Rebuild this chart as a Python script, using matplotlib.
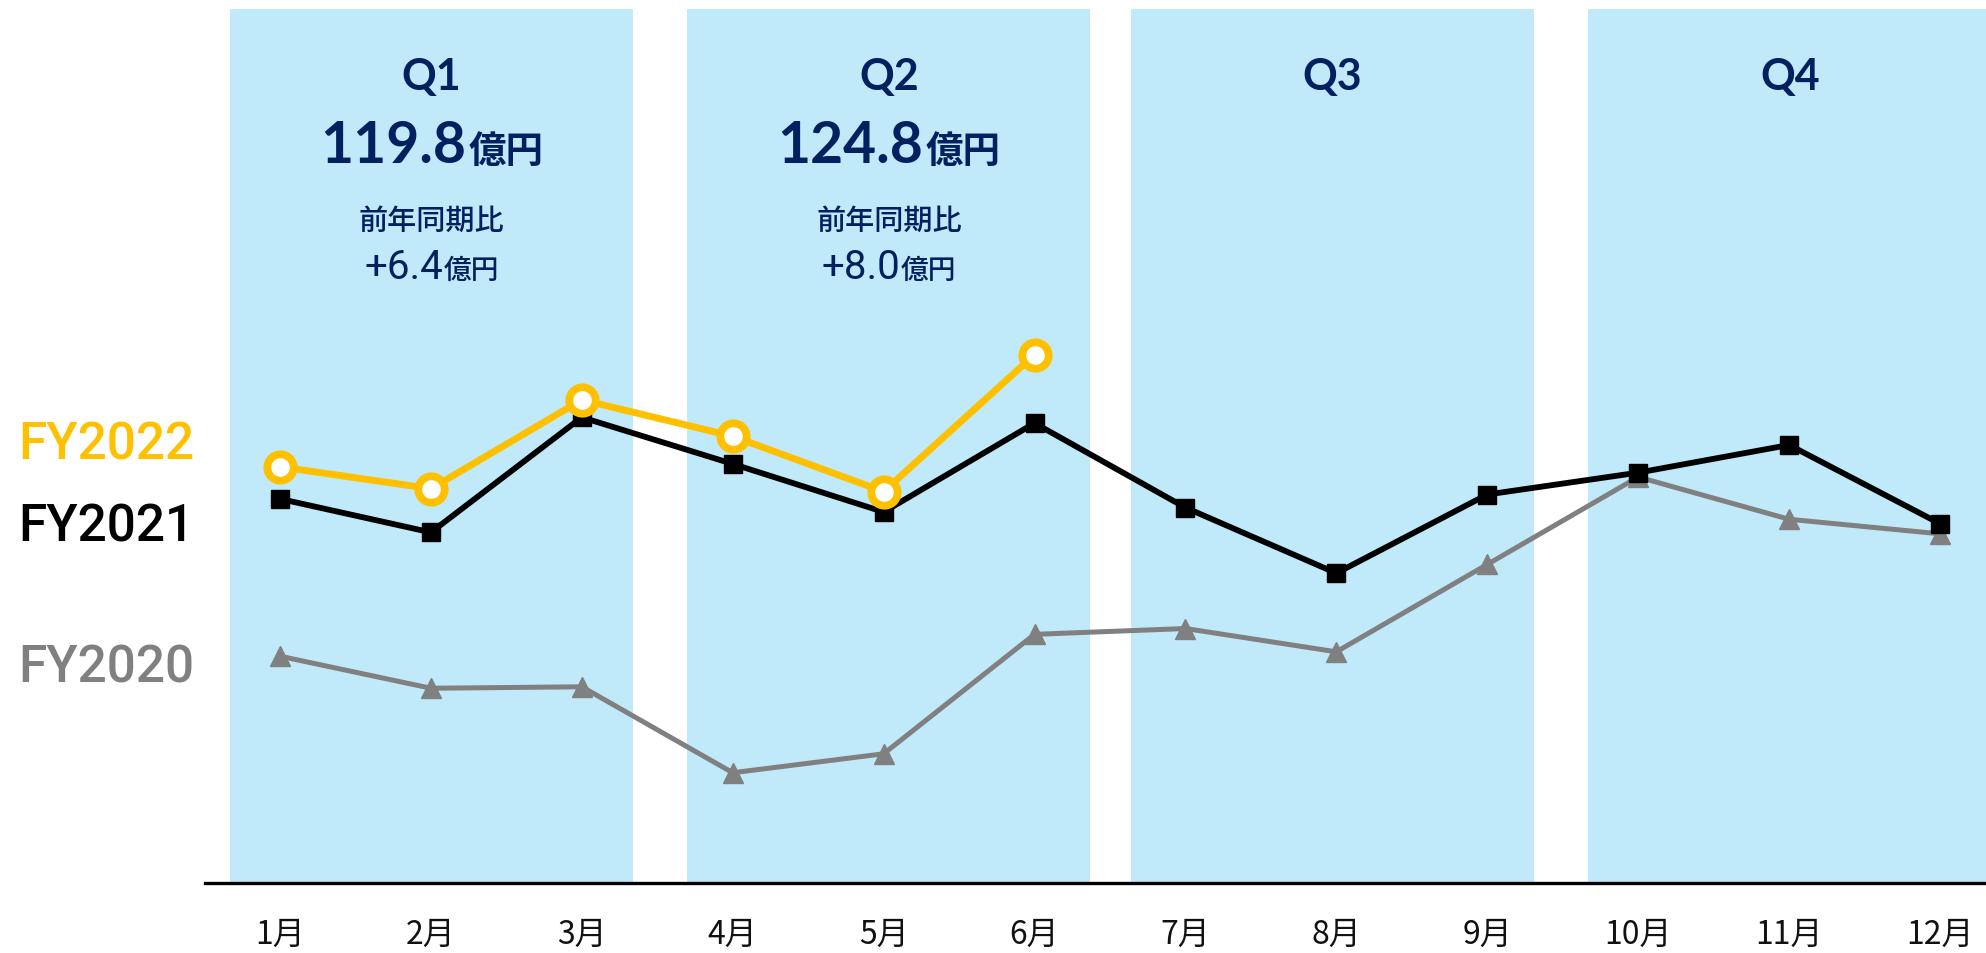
import matplotlib
matplotlib.use('Agg')
import matplotlib.pyplot as plt
import matplotlib.transforms as mtransforms

# ---------------- data ----------------
months = ['1月', '2月', '3月', '4月', '5月', '6月',
          '7月', '8月', '9月', '10月', '11月', '12月']
fy2022 = [38.9, 37.4, 43.5, 41.0, 37.2, 46.6]
fy2021 = [36.7, 34.4, 42.3, 39.1, 35.8, 41.9, 36.1, 31.6, 37.0, 38.5, 40.4, 35.0]
fy2020 = [25.9, 23.7, 23.8, 17.9, 19.2, 27.4, 27.8, 26.2, 32.2, 38.2, 35.3, 34.3]
series_names = ['FY2022', 'FY2021', 'FY2020']
quarters = ['Q1', 'Q2', 'Q3', 'Q4']
q_totals = ['119.8', '124.8', None, None]
q_yoy = ['+6.4', '+8.0', None, None]
unit = '億円'
yoy_caption = '前年同期比'

# ---------------- style ----------------
W, H, DPI = 1986, 954, 100
NAVY = '#002060'
GOLD = '#FFC000'
GREY = '#808080'
BAND = '#C0EAF9'
JP = 'Noto Sans CJK JP'
BOLDLAT = ['Lato', 'Noto Sans CJK JP', 'DejaVu Sans']
MEDLAT = ['Roboto', 'Noto Sans CJK JP', 'DejaVu Sans']
plt.rcParams['font.family'] = [JP, 'DejaVu Sans']

fig = plt.figure(figsize=(W / DPI, H / DPI), dpi=DPI)
ax_left, ax_right, ax_top, ax_bottom = 205, 1986, 10, 884
ax = fig.add_axes([ax_left / W, 1 - ax_bottom / H,
                   (ax_right - ax_left) / W, (ax_bottom - ax_top) / H])
ax.set_xlim(0.503, 12.305)
ax.set_ylim(10.33, 70.33)
ax.set_facecolor('none')

for s in ['top', 'right', 'left']:
    ax.spines[s].set_visible(False)
ax.spines['bottom'].set_linewidth(2.4)
ax.spines['bottom'].set_color('black')
ax.spines['bottom'].set_zorder(6)
ax.set_yticks([])

x = list(range(1, 13))
ax.set_xticks(x)
ax.set_xticklabels(months, fontsize=23, color='#111111')
ax.tick_params(axis='x', length=0, pad=25)

# quarter bands
band_w = 2.67
band_left = [0.67, 3.70, 6.64, 9.67]
for bl in band_left:
    ax.axvspan(bl, bl + band_w, color=BAND, lw=0, zorder=0)

# lines
ax.plot(x, fy2020, color=GREY, lw=3.6, marker='^', ms=14.5, mec=GREY, mew=1,
        zorder=3, clip_on=False)
ax.plot(x, fy2021, color='black', lw=4.2, marker='s', ms=13.5, mec='black', mew=1,
        zorder=4, clip_on=False)
ax.plot(x[:len(fy2022)], fy2022, color=GOLD, lw=5.0, marker='o', ms=19,
        mfc='white', mec=GOLD, mew=5.6, zorder=5, clip_on=False)

# ---------------- texts ----------------
tr = mtransforms.blended_transform_factory(ax.transData, fig.transFigure)


def fy(px):
    return 1 - px / H


fig.canvas.draw()
renderer = fig.canvas.get_renderer()


def two_part(c, ypx, a, b, fa, fb, wa, wb, fam, gap=2):
    t1 = ax.text(c, fy(ypx), a, transform=tr, ha='left', va='baseline',
                 fontsize=fa, fontweight=wa, color=NAVY, family=fam)
    t2 = ax.text(c, fy(ypx), b, transform=tr, ha='left', va='baseline',
                 fontsize=fb, fontweight=wb, color=NAVY)
    w1 = t1.get_window_extent(renderer).width
    w2 = t2.get_window_extent(renderer).width
    total = w1 + gap + w2
    t1.set_transform(tr + mtransforms.ScaledTranslation(-total / 2 / DPI, 0, fig.dpi_scale_trans))
    t2.set_transform(tr + mtransforms.ScaledTranslation((-total / 2 + w1 + gap) / DPI, 0,
                                                        fig.dpi_scale_trans))


for i, q in enumerate(quarters):
    c = band_left[i] + band_w / 2
    ax.text(c, fy(90), q, transform=tr, ha='center', va='baseline',
            fontsize=31, fontweight='bold', color=NAVY, family=BOLDLAT)
    if q_totals[i] is not None:
        two_part(c, 163, q_totals[i], unit, 41, 27, 'bold', 'bold', BOLDLAT)
        ax.text(c, fy(221), yoy_caption, transform=tr, ha='center', va='center',
                fontsize=21, fontweight='medium', color=NAVY)
        two_part(c, 279, q_yoy[i], unit, 29, 20, 'normal', 'medium', MEDLAT, gap=1)

# series labels on the left
label_colors = [GOLD, 'black', GREY]
label_base = [460, 542, 683]
for name, col, yb in zip(series_names, label_colors, label_base):
    fig.text(18 / W, fy(yb), name, color=col, fontsize=37, ha='left',
             va='baseline', fontweight='medium', family=MEDLAT)

fig.savefig('out.png', dpi=DPI)
